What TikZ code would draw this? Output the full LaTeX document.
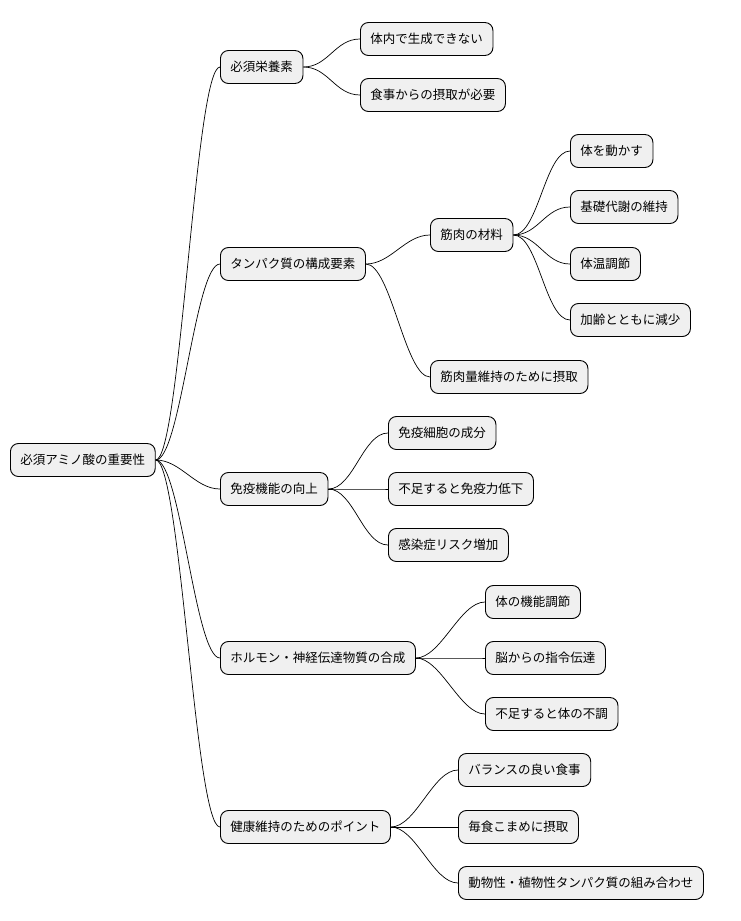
\documentclass[tikz,border=0pt]{standalone}
\usepackage{fontspec}
\setmainfont{Noto Sans CJK JP}
\begin{document}
\begin{tikzpicture}[x=1pt,y=-1pt,
  n/.style={draw=black,fill=gray!12,rounded corners=8pt,minimum height=33pt,inner xsep=10pt,anchor=west,font=\fontsize{12.5}{15}\selectfont,line width=0.9pt},
  c/.style={line width=0.7pt}]
\useasboundingbox (0,0) rectangle (740,921);
\node[n] (r) at (10,460) {必須アミノ酸の重要性};
\node[n] (a) at (220,67) {必須栄養素};
\node[n] (a1) at (360,39) {体内で生成できない};
\node[n] (a2) at (360,95) {食事からの摂取が必要};
\node[n] (b) at (220,264) {タンパク質の構成要素};
\node[n] (b1) at (430,235) {筋肉の材料};
\node[n] (b11) at (570,151) {体を動かす};
\node[n] (b12) at (570,207) {基礎代謝の維持};
\node[n] (b13) at (570,264) {体温調節};
\node[n] (b14) at (570,320) {加齢とともに減少};
\node[n] (b2) at (430,377) {筋肉量維持のために摂取};
\node[n] (c) at (220,489) {免疫機能の向上};
\node[n] (c1) at (388,433) {免疫細胞の成分};
\node[n] (c2) at (388,489) {不足すると免疫力低下};
\node[n] (c3) at (388,545) {感染症リスク増加};
\node[n] (d) at (220,658) {ホルモン・神経伝達物質の合成};
\node[n] (d1) at (485,602) {体の機能調節};
\node[n] (d2) at (485,658) {脳からの指令伝達};
\node[n] (d3) at (485,714) {不足すると体の不調};
\node[n] (e) at (220,827) {健康維持のためのポイント};
\node[n] (e1) at (458,770) {バランスの良い食事};
\node[n] (e2) at (458,827) {毎食こまめに摂取};
\node[n] (e3) at (458,883) {動物性・植物性タンパク質の組み合わせ};
\foreach \p/\q in {r/a,r/b,r/c,r/d,r/e,a/a1,a/a2,b/b1,b/b2,b1/b11,b1/b12,b1/b13,b1/b14,c/c1,c/c2,c/c3,d/d1,d/d2,d/d3,e/e1,e/e2,e/e3}
  \draw[c] (\p.east) .. controls +(25,0) and +(-25,0) .. (\q.west);
\end{tikzpicture}
\end{document}
